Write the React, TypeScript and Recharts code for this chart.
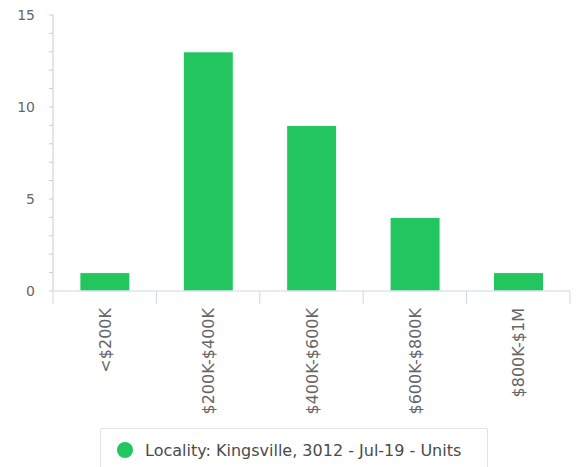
import { BarChart, Bar, XAxis, YAxis, Legend } from "recharts";

// price brackets and unit counts
const categories = ["<$200K", "$200K-$400K", "$400K-$600K", "$600K-$800K", "$800K-$1M"];
const units = [1, 13, 9, 4, 1];
const yTicks = [0, 1, 2, 3, 4, 5, 6, 7, 8, 9, 10, 11, 12, 13, 14, 15];
const seriesName = "Locality: Kingsville, 3012 - Jul-19 - Units";

const data = categories.map((c, i) => ({ name: c, units: units[i] }));

const W = 577;
const H = 467;
const LEFT = 53;
const RIGHT = 7;
const bandWidth = (W - LEFT - RIGHT) / categories.length;
const FONT = "'DejaVu Sans', sans-serif";

function YTick(props: any) {
  const { x, y, payload } = props;
  if (payload.value % 5 !== 0) return null;
  return (
    <text x={x} y={y} dy={5} textAnchor="end" fill="#666" fontSize={14} fontFamily={FONT}>
      {payload.value}
    </text>
  );
}

function XTick(props: any) {
  const { x, y, payload, index } = props;
  const left = x - bandWidth / 2;
  return (
    <g>
      <line x1={left} y1={y} x2={left} y2={y + 13} stroke="#ccd6eb" />
      {index === categories.length - 1 && (
        <line x1={x + bandWidth / 2} y1={y} x2={x + bandWidth / 2} y2={y + 13} stroke="#ccd6eb" />
      )}
      <text
        x={x}
        y={y + 17}
        transform={`rotate(-90, ${x}, ${y + 17})`}
        dy={6}
        textAnchor="end"
        fill="#666"
        fontSize={16}
        fontFamily={FONT}
      >
        {payload.value}
      </text>
    </g>
  );
}

function LegendBox() {
  return (
    <div
      style={{
        marginLeft: 100,
        marginTop: 7,
        width: 388,
        height: 44,
        boxSizing: "border-box",
        border: "1px solid #e3e3e3",
        borderRadius: 2,
        display: "flex",
        alignItems: "center",
        fontFamily: FONT,
        fontSize: 16,
        color: "#4a4a4a",
      }}
    >
      <span
        style={{
          display: "inline-block",
          width: 16,
          height: 16,
          borderRadius: "50%",
          background: "#22c55e",
          marginLeft: 16,
          marginRight: 12,
        }}
      />
      {seriesName}
    </div>
  );
}

export default function App() {
  return (
    <div style={{ width: W, height: H, overflow: "hidden" }}>
      <style>{`body{margin:0}`}</style>
      <BarChart
        width={W}
        height={H}
        data={data}
        margin={{ top: 15, right: RIGHT, left: 0, bottom: 0 }}
        barCategoryGap="26%"
      >
        <XAxis
          dataKey="name"
          interval={0}
          height={130}
          tickLine={false}
          tickSize={0}
          tickMargin={0}
          axisLine={{ stroke: "#ccd6eb" }}
          tick={<XTick />}
        />
        <YAxis
          width={LEFT}
          domain={[0, 15]}
          ticks={yTicks}
          interval={0}
          tickSize={4}
          tickMargin={14}
          axisLine={{ stroke: "#ccc" }}
          tickLine={{ stroke: "#ccc" }}
          tick={<YTick />}
        />
        <Legend verticalAlign="bottom" height={46} content={<LegendBox />} />
        <Bar
          dataKey="units"
          name={seriesName}
          fill="#22c55e"
          stroke="#ffffff"
          strokeWidth={1}
          isAnimationActive={false}
        />
      </BarChart>
    </div>
  );
}
